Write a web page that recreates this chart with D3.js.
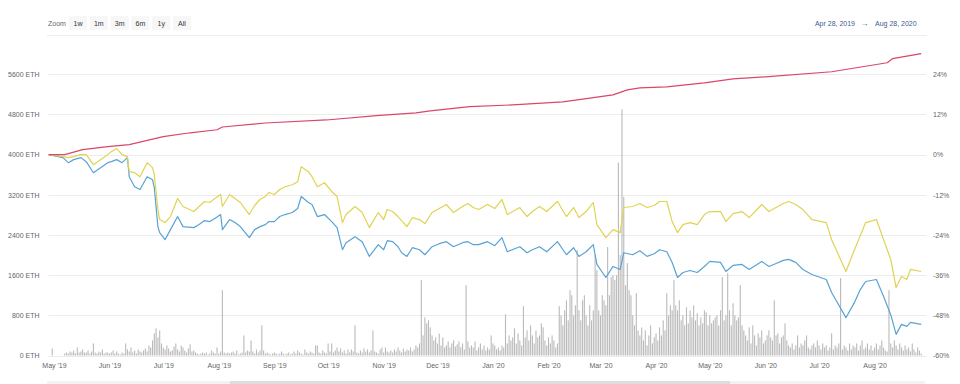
<!DOCTYPE html>
<html>
<head>
<meta charset="utf-8">
<script src="https://d3js.org/d3.v7.min.js"></script>
<style>
  html, body { margin: 0; padding: 0; background: #fff; }
  svg { display: block; font-family: "Liberation Sans", Arial, sans-serif; }
</style>
</head>
<body>
<svg id="chart" width="960" height="384"></svg>
<script>
"use strict";

const WIDTH = 960;
const HEIGHT = 384;
const PLOT_LEFT = 48.6;
const PLOT_RIGHT = 923;
const GRID_RIGHT = 926;
const PLOT_TOP = 34.1;
const PLOT_BOTTOM = 355.5;
const FONT_SIZE = 7;
const LINE_WIDTH = 1.2;

const START_DATE = new Date(2019, 3, 28);
const END_DATE = new Date(2020, 7, 28);

const ZOOM_BUTTONS = ["1w", "1m", "3m", "6m", "1y", "All"];
const RANGE_FROM = "Apr 28, 2019";
const RANGE_TO = "Aug 28, 2020";

const ETH_TICKS = [0, 800, 1600, 2400, 3200, 4000, 4800, 5600];
const PCT_TICKS = [-60, -48, -36, -24, -12, 0, 12, 24];

// red line, ETH, day offsets from Apr 28 2019
const redDays = [0, 9, 19, 33, 45, 64, 79, 94, 97, 121, 155, 183, 205, 213, 235, 259, 287, 315, 323, 330, 345, 366, 382, 400, 437, 468, 471, 487];
const redEth = [4000, 4000, 4100, 4160, 4200, 4360, 4435, 4495, 4550, 4630, 4690, 4775, 4830, 4870, 4955, 4990, 5050, 5190, 5290, 5330, 5350, 5430, 5510, 5550, 5650, 5830, 5910, 6010];

// yellow and blue lines, percent, same day offsets
const lineDays = [
    0, 8, 11, 14, 18, 21, 25, 29, 33, 35,
    38, 41, 44, 45, 48, 51, 55, 58, 59, 61,
    62, 65, 68, 72, 75, 81, 84, 87, 90, 93,
    96, 97, 101, 104, 107, 112, 115, 118, 121, 123,
    126, 129, 132, 136, 139, 141, 145, 147, 150, 154,
    158, 161, 164, 166, 171, 175, 179, 184, 187, 189,
    192, 195, 197, 200, 203, 207, 210, 214, 218, 222,
    226, 231, 234, 237, 240, 245, 249, 253, 256, 263,
    267, 270, 274, 278, 284, 289, 293, 296, 300, 304,
    306, 311, 315, 319, 321, 326, 330, 334, 338, 341,
    345, 348, 351, 354, 358, 362, 366, 369, 375, 378,
    382, 387, 391, 398, 402, 406, 410, 413, 417, 421,
    426, 434, 437, 445, 450, 453, 456, 462, 466, 470,
    473, 476, 479, 481, 487];

const yellowPct = [
    0, -0.6, -0.9, -0.6, 0, 0, -3.0, -1.5, 0, 0.9,
    1.8, 0, -0.6, -5.1, -5.4, -6.6, -2.4, -3.9, -6.0, -16.4,
    -19.4, -20.3, -18.5, -13.1, -15.5, -17.0, -15.5, -14.0, -14.3, -13.0,
    -11.9, -15.5, -11.9, -13.1, -14.3, -17.9, -15.2, -13.4, -12.5, -11.3,
    -11.9, -10.4, -9.6, -9.0, -8.1, -3.6, -5.1, -6.6, -9.6, -8.4,
    -11.0, -12.5, -20.3, -17.9, -15.5, -17.3, -21.8, -17.3, -19.4, -16.4,
    -17.0, -18.5, -19.7, -21.5, -18.8, -19.4, -20.6, -17.3, -16.1, -14.9,
    -17.3, -15.5, -14.6, -15.8, -16.4, -14.9, -16.1, -13.4, -17.9, -15.8,
    -18.5, -17.0, -15.5, -17.0, -14.0, -18.5, -15.8, -18.8, -17.0, -14.3,
    -20.9, -24.8, -22.4, -23.3, -15.8, -15.5, -14.6, -15.8, -15.2, -14.0,
    -14.0, -20.0, -23.3, -20.9, -20.3, -20.9, -17.9, -17.0, -17.0, -20.0,
    -17.6, -17.0, -18.8, -14.9, -17.0, -15.8, -14.6, -14.0, -14.9, -16.4,
    -19.4, -20.3, -25.4, -34.9, -28.1, -24.2, -20.3, -19.4, -25.4, -31.3,
    -39.7, -36.4, -37.3, -34.3, -34.9];

const bluePct = [
    0, -0.9, -2.4, -1.5, -0.9, -2.1, -5.4, -3.9, -2.4, -2.1,
    -1.5, -2.4, -0.9, -6.6, -9.6, -10.4, -6.6, -7.5, -9.9, -21.5,
    -23.3, -25.4, -22.4, -18.5, -21.5, -21.8, -20.9, -19.7, -20.0, -19.0,
    -17.9, -22.4, -19.4, -20.3, -21.5, -24.8, -22.4, -21.5, -20.9, -20.0,
    -20.0, -18.5, -17.9, -17.3, -16.1, -12.5, -14.3, -14.9, -18.5, -17.9,
    -20.0, -21.8, -28.4, -26.3, -24.5, -26.0, -30.4, -26.9, -28.4, -25.7,
    -26.0, -27.5, -29.3, -30.4, -27.8, -28.4, -29.9, -27.5, -26.6, -26.0,
    -27.5, -26.3, -26.0, -26.9, -26.9, -26.0, -27.2, -24.8, -29.0, -27.5,
    -29.3, -28.4, -27.5, -29.0, -26.0, -29.9, -27.8, -30.4, -29.0, -26.9,
    -32.8, -36.7, -33.4, -34.3, -29.3, -29.9, -28.7, -30.4, -29.6, -28.4,
    -29.0, -32.2, -36.7, -35.2, -34.6, -35.2, -33.4, -31.9, -32.2, -34.9,
    -33.1, -32.8, -34.3, -31.9, -33.4, -32.5, -31.6, -31.3, -32.2, -34.3,
    -35.8, -37.3, -41.2, -48.7, -43.9, -40.3, -37.9, -37.3, -42.4, -47.8,
    -53.7, -50.7, -51.3, -50.1, -50.7];

// daily volume bars, ETH, one per day from Apr 28 2019
const volumeEth = [
    0, 0, 140, 0, 0, 0, 0, 0, 0, 40,
    60, 40, 80, 60, 100, 40, 160, 60, 80, 120,
    60, 60, 100, 40, 80, 240, 60, 40, 80, 60,
    120, 40, 60, 60, 40, 60, 100, 40, 80, 40,
    20, 60, 40, 240, 120, 80, 160, 60, 100, 40,
    120, 80, 60, 100, 140, 80, 200, 160, 300, 440,
    540, 360, 500, 240, 160, 120, 200, 140, 80, 100,
    180, 240, 120, 80, 200, 160, 100, 60, 140, 220,
    80, 100, 60, 40, 20, 40, 60, 40, 60, 20,
    40, 100, 60, 40, 160, 40, 80, 1300, 60, 40,
    60, 40, 60, 80, 40, 100, 20, 40, 60, 400,
    60, 100, 80, 300, 80, 40, 120, 60, 100, 600,
    100, 40, 60, 40, 20, 40, 60, 40, 20, 40,
    80, 40, 20, 40, 60, 20, 40, 80, 40, 100,
    60, 40, 20, 120, 60, 40, 80, 60, 40, 200,
    200, 60, 40, 100, 60, 40, 240, 80, 240, 60,
    100, 160, 80, 140, 60, 100, 40, 120, 60, 120,
    80, 600, 60, 40, 100, 60, 140, 80, 120, 60,
    100, 500, 80, 60, 40, 120, 160, 60, 160, 80,
    60, 100, 60, 120, 80, 160, 100, 60, 140, 80,
    120, 100, 160, 80, 120, 200, 160, 240, 1500, 400,
    760, 640, 700, 560, 400, 300, 360, 240, 440, 200,
    360, 160, 200, 280, 160, 240, 300, 180, 220, 280,
    160, 240, 120, 1400, 280, 160, 200, 160, 280, 100,
    160, 240, 120, 200, 100, 160, 120, 400, 240, 200,
    120, 160, 100, 200, 160, 820, 240, 400, 300, 360,
    540, 240, 440, 300, 200, 980, 360, 500, 300, 600,
    400, 240, 500, 360, 400, 640, 560, 300, 200, 360,
    240, 400, 300, 160, 240, 980, 800, 600, 900, 1100,
    700, 1300, 1200, 800, 1000, 2100, 900, 700, 1100, 1200,
    800, 600, 1000, 700, 900, 2000, 1700, 900, 800, 1200,
    1100, 1000, 2160, 1200, 1560, 1600, 1500, 1600, 3840, 2000,
    4900, 3160, 1400, 1840, 1300, 1200, 800, 600, 1240, 500,
    400, 560, 300, 500, 200, 400, 600, 240, 360, 440,
    300, 560, 400, 700, 500, 1240, 800, 1000, 900, 1500,
    1000, 900, 1100, 700, 800, 600, 960, 640, 900, 760,
    1000, 700, 840, 600, 760, 640, 900, 860, 600, 800,
    640, 700, 760, 800, 600, 900, 1560, 700, 800, 1640,
    900, 600, 1040, 800, 700, 760, 1400, 600, 500, 400,
    300, 560, 240, 600, 400, 200, 440, 360, 500, 240,
    300, 400, 500, 360, 300, 1100, 400, 440, 240, 360,
    400, 640, 300, 200, 160, 240, 120, 200, 400, 160,
    240, 200, 300, 400, 160, 120, 200, 240, 160, 300,
    200, 120, 240, 160, 200, 100, 160, 440, 120, 200,
    160, 240, 1540, 120, 200, 160, 100, 240, 120, 200,
    160, 240, 100, 200, 300, 120, 160, 240, 120, 200,
    100, 160, 240, 120, 200, 300, 160, 100, 80, 1300,
    240, 160, 300, 200, 120, 240, 160, 100, 200, 120,
    160, 80, 240, 120, 60, 160, 100, 40];

const COLORS = {
    red: "#d9476a",
    yellow: "#e0d352",
    blue: "#58a3d5",
    bar: "#bababa",
    grid: "#ececec",
    text: "#666",
    button: "#333",
    range: "#3d5b94"
};

function dayToDate(d) {
    return d3.timeDay.offset(START_DATE, d);
}

const svg = d3.select("#chart");

const x = d3.scaleTime()
    .domain([START_DATE, END_DATE])
    .range([PLOT_LEFT, PLOT_RIGHT]);

const yEth = d3.scaleLinear()
    .domain([0, 6400])
    .range([PLOT_BOTTOM, PLOT_TOP]);

const yPct = d3.scaleLinear()
    .domain([-60, 36])
    .range([PLOT_BOTTOM, PLOT_TOP]);

// header: zoom buttons and date range
const header = svg.append("g").attr("font-size", FONT_SIZE);

header.append("text")
    .attr("x", 48)
    .attr("y", 25.5)
    .attr("fill", COLORS.text)
    .text("Zoom");

const buttonX = d3.scalePoint()
    .domain(ZOOM_BUTTONS)
    .range([78, 182]);

const buttons = header.selectAll("g.btn")
    .data(ZOOM_BUTTONS)
    .enter()
    .append("g")
    .attr("class", "btn")
    .attr("transform", d => "translate(" + buttonX(d) + ",0)");

buttons.append("rect")
    .attr("x", -9)
    .attr("y", 16)
    .attr("width", 18)
    .attr("height", 14)
    .attr("fill", "#f7f7f7");

buttons.append("text")
    .attr("y", 25.5)
    .attr("text-anchor", "middle")
    .attr("fill", COLORS.button)
    .text(d => d);

header.append("text")
    .attr("x", 855)
    .attr("y", 25.5)
    .attr("text-anchor", "end")
    .attr("fill", COLORS.range)
    .text(RANGE_FROM);

header.append("text")
    .attr("x", 864.5)
    .attr("y", 25.5)
    .attr("text-anchor", "middle")
    .attr("font-size", 8)
    .attr("fill", COLORS.range)
    .text("\u2192");

header.append("text")
    .attr("x", 875)
    .attr("y", 25.5)
    .attr("fill", COLORS.range)
    .text(RANGE_TO);

svg.append("line")
    .attr("x1", 47)
    .attr("x2", 927)
    .attr("y1", 35.5)
    .attr("y2", 35.5)
    .attr("stroke", "#eeeeee");

// grid lines
svg.append("g")
    .selectAll("line")
    .data(ETH_TICKS)
    .enter()
    .append("line")
    .attr("x1", PLOT_LEFT)
    .attr("x2", GRID_RIGHT)
    .attr("y1", d => Math.round(yEth(d)) + 0.5)
    .attr("y2", d => Math.round(yEth(d)) + 0.5)
    .attr("stroke", COLORS.grid);

// volume bars
const bars = volumeEth.map((v, i) => ({date: dayToDate(i), value: v}));

svg.append("g")
    .selectAll("rect")
    .data(bars.filter(d => d.value > 0))
    .enter()
    .append("rect")
    .attr("x", d => x(d.date) - 0.55)
    .attr("width", 1.1)
    .attr("y", d => yEth(d.value))
    .attr("height", d => PLOT_BOTTOM - yEth(d.value))
    .attr("fill", COLORS.bar);

// lines
const redData = redDays.map((d, i) => ({date: dayToDate(d), value: redEth[i]}));
const yellowData = lineDays.map((d, i) => ({date: dayToDate(d), value: yellowPct[i]}));
const blueData = lineDays.map((d, i) => ({date: dayToDate(d), value: bluePct[i]}));

const ethLine = d3.line().x(d => x(d.date)).y(d => yEth(d.value));
const pctLine = d3.line().x(d => x(d.date)).y(d => yPct(d.value));

function drawLine(data, gen, color) {
    svg.append("path")
        .datum(data)
        .attr("d", gen)
        .attr("fill", "none")
        .attr("stroke", color)
        .attr("stroke-width", LINE_WIDTH)
        .attr("stroke-linejoin", "round");
}

drawLine(blueData, pctLine, COLORS.blue);
drawLine(yellowData, pctLine, COLORS.yellow);
drawLine(redData, ethLine, COLORS.red);

// axes
function styleAxis(g) {
    g.select(".domain").remove();
    g.selectAll(".tick line").remove();
    g.selectAll("text")
        .attr("fill", COLORS.text)
        .attr("font-size", FONT_SIZE)
        .attr("font-family", "Liberation Sans, Arial, sans-serif");
}

svg.append("g")
    .attr("transform", "translate(" + PLOT_LEFT + ",0)")
    .call(d3.axisLeft(yEth)
        .tickValues(ETH_TICKS)
        .tickSize(0)
        .tickPadding(9)
        .tickFormat(d => d + " ETH"))
    .call(styleAxis);

svg.append("g")
    .attr("transform", "translate(" + PLOT_RIGHT + ",0)")
    .call(d3.axisRight(yPct)
        .tickValues(PCT_TICKS)
        .tickSize(0)
        .tickPadding(10)
        .tickFormat(d => d + "%"))
    .call(styleAxis);

svg.append("g")
    .attr("transform", "translate(0," + PLOT_BOTTOM + ")")
    .call(d3.axisBottom(x)
        .ticks(d3.timeMonth.every(1))
        .tickSize(0)
        .tickPadding(8)
        .tickFormat(d3.timeFormat("%b '%y")))
    .call(styleAxis);

// navigator scrollbar edge
svg.append("rect")
    .attr("x", 47)
    .attr("y", 381)
    .attr("width", 878)
    .attr("height", 3)
    .attr("fill", "#f2f2f2");

svg.append("rect")
    .attr("x", 230)
    .attr("y", 381)
    .attr("width", 500)
    .attr("height", 3)
    .attr("fill", "#dddddd");
</script>
</body>
</html>
